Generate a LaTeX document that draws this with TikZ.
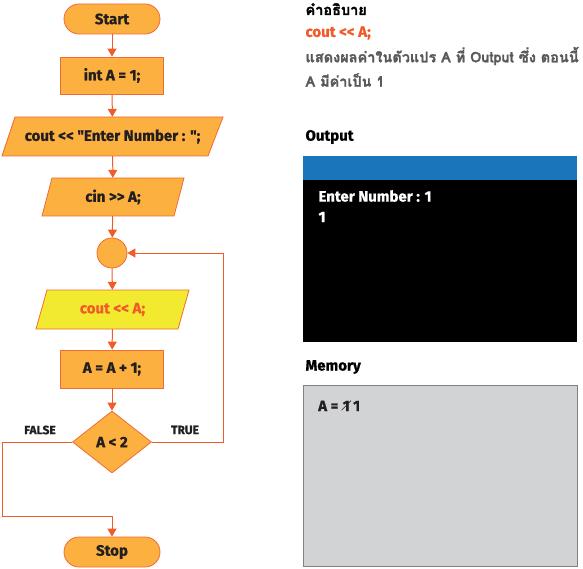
\documentclass[tikz,border=0pt]{standalone}
\usepackage{fontspec}
\setmainfont{Fira Sans}[Ligatures=TeXOff, BoldFeatures={FakeBold=0.8}]
\newfontfamily\thaifont[Script=Thai, FakeBold=1.5]{Loma}
\usetikzlibrary{arrows.meta,shapes.geometric}
\definecolor{fillor}{HTML}{FBB040}
\definecolor{edgeor}{HTML}{F26A36}
\definecolor{lineor}{HTML}{F15A29}
\definecolor{yel}{HTML}{F2EA2F}
\definecolor{txtor}{HTML}{F15A29}
\definecolor{bluebar}{HTML}{1B75BB}
\definecolor{memgray}{HTML}{D1D3D4}
\definecolor{memedge}{HTML}{808285}
\definecolor{darkt}{HTML}{231F20}
\definecolor{greyt}{HTML}{58595B}
\begin{document}
\begin{tikzpicture}[x=1pt,y=-1pt,
  font=\fontsize{15}{18}\selectfont\bfseries,
  every node/.style={text=darkt},
  term/.style={draw=edgeor, fill=fillor, line width=0.8pt, rounded corners=15pt, minimum width=96pt, minimum height=30pt},
  proc/.style={draw=edgeor, fill=fillor, line width=0.8pt, minimum width=103pt, minimum height=37pt},
  iobox/.style={draw=edgeor, fill=fillor, line width=0.8pt},
  iotext/.style={inner sep=0pt, minimum width=60pt},
  conn/.style={draw=lineor, line width=1pt, -{Triangle[length=8pt,width=9pt]}},
  lbl/.style={font=\fontsize{12}{14}\selectfont\bfseries},
  thai/.style={font=\thaifont\fontsize{14.5}{17}\selectfont\bfseries},
  memtxt/.style={inner sep=0pt, anchor=base west}
]
\useasboundingbox (0,0) rectangle (583,569);

% ---------- flowchart ----------
\node[term] (start) at (112,19) {Start};
\node[proc] (int) at (112,75.5) {int A = 1;};

\filldraw[iobox] (15,117) -- (223,117) -- (208,156) -- (2,156) -- cycle;
\node[iotext, minimum height=39pt] (cout1) at (112.5,136.5) {cout << "Enter Number : ";};

\filldraw[iobox] (52,178) -- (184,178) -- (174,216) -- (42,216) -- cycle;
\node[iotext, minimum height=38pt] (cin) at (113,197) {cin >> A;};

\node[circle, draw=edgeor, fill=fillor, line width=0.8pt, minimum size=30pt, inner sep=0pt] (jn) at (112,253) {};

\filldraw[iobox, fill=yel] (47,290) -- (189,290) -- (178,329) -- (36,329) -- cycle;
\node[iotext, minimum height=39pt, text=txtor] (couta) at (112.5,309.5) {cout << A;};

\node[proc, minimum height=38pt] (inc) at (112,369) {A = A + 1;};

\node[diamond, draw=edgeor, fill=fillor, line width=0.8pt, minimum width=79pt, minimum height=62pt, inner sep=0pt] (dec) at (112,442) {A < 2};

\node[term] (stop) at (112,552) {Stop};

\node[lbl] (flbl) at (40,430) {FALSE};
\node[lbl] (tlbl) at (185,430) {TRUE};

\coordinate (tr) at (223,253);
\coordinate (fl) at (2,516);

\draw[conn] (start) -- (int);
\draw[conn] (int) -- (cout1);
\draw[conn] (cout1) -- (cin);
\draw[conn] (cin) -- (jn);
\draw[conn] (jn) -- (couta);
\draw[conn] (couta) -- (inc);
\draw[conn] (inc) -- (dec);
\draw[conn] (dec.east) -| (tr) -- (jn.east);
\draw[conn] (dec.west) -| (fl) -| (stop.north);

% ---------- description ----------
\node[thai, anchor=west, text=black] (h1) at (302,9) {คำอธิบาย};
\node[anchor=west, text=txtor] (code) at (302,33) {cout << A;};
\node[thai, anchor=west, text=greyt] (d1) at (302,56) {แสดงผลค่าในตัวแปร A ที่ Output ซึ่ง ตอนนี้};
\node[thai, anchor=west, text=greyt] (d2) at (302,80) {A มีค่าเป็น 1};

% ---------- output ----------
\node[anchor=west, text=black] (h2) at (302,137) {Output};
\node[fill=bluebar, minimum width=274pt, minimum height=24pt, inner sep=0pt, anchor=north west] (bar) at (303,156) {};
\node[fill=black, minimum width=274pt, minimum height=162pt, inner sep=0pt, anchor=north west] (scr) at (303,180) {};
\node[anchor=west, text=white] (o1) at (315,196) {Enter Number : 1};
\node[anchor=west, text=white] (o2) at (315,217) {1};

% ---------- memory ----------
\node[anchor=west, text=black] (h3) at (302,367) {Memory};
\node[fill=memgray, draw=memedge, line width=0.8pt, minimum width=274pt, minimum height=181pt, inner sep=0pt, anchor=north west] (mem) at (303,385) {};
\node[memtxt] (ma) at (318,411) {A =};
\node[memtxt] (mold) at ([xshift=4pt]ma.base east) {1};
\node[memtxt] (mnew) at ([xshift=3pt]mold.base east) {1};
\draw[darkt, line width=0.6pt] ([xshift=-1pt,yshift=1pt]mold.south west) -- ([xshift=1pt]mold.north east);
\end{tikzpicture}
\end{document}
